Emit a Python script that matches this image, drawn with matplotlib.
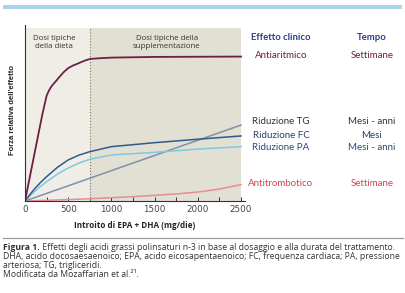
import matplotlib.pyplot as plt
from matplotlib.patches import Rectangle
from matplotlib.lines import Line2D

# Values (x in mg/die, y in relative units 0-100)
x_anti = [0, 100, 200, 250, 275, 300, 325, 350, 400, 450, 500, 550, 600, 650, 700,
          750, 850, 1000, 1500, 2000, 2500]
y_anti = [0, 25, 50, 61, 63.8, 66, 67.6, 69, 72, 74.8, 77, 78.4, 79.4, 80.5, 81.5,
          82.3, 82.7, 83.1, 83.5, 83.6, 83.7]

x_tg = [0, 2500]
y_tg = [0, 44]

x_fc = [0, 50, 100, 175, 250, 375, 500, 625, 750, 1000, 1500, 2000, 2500]
y_fc = [0, 3.3, 6.4, 10.5, 14.1, 19.5, 23.8, 26.6, 28.6, 31.5, 33.8, 35.8, 37.7]

x_pa = [0, 50, 100, 175, 250, 375, 500, 625, 750, 1000, 1500, 2000, 2500]
y_pa = [0, 2.6, 5.0, 8.3, 11.2, 15.6, 19.1, 22.0, 24.2, 26.7, 28.2, 30.1, 31.5]

x_at = [0, 250, 500, 750, 1000, 1250, 1500, 1750, 2000, 2250, 2500]
y_at = [0, 0.4, 0.8, 1.3, 1.9, 2.5, 3.3, 4.1, 5.2, 6.9, 9.5]

xticks = [0, 500, 1000, 1500, 2000, 2500]

legend_rows = [
    ("Antiaritmico", "Settimane", "#6b1e3c", 56),
    ("Riduzione TG", "Mesi - anni", "#333333", 122),
    ("Riduzione FC", "Mesi", "#22406e", 135),
    ("Riduzione PA", "Mesi - anni", "#2b4a7c", 148),
    ("Antitrombotico", "Settimane", "#d0454e", 183),
]

W, H = 405, 293
fig = plt.figure(figsize=(W / 100, H / 100), dpi=100)
fig.patch.set_facecolor("white")

ax = fig.add_axes([25 / W, 1 - 201 / H, 220 / W, 176 / H])
ax.set_xlim(0, 2546)
ax.set_ylim(0, 102)

# shaded background
ax.axvspan(0, 750, ymin=0, ymax=100 / 102, color="#efede6", lw=0)
ax.axvspan(750, 2500, ymin=0, ymax=100 / 102, color="#e2dfd3", lw=0)
ax.plot([750, 750], [0, 100], color="#777777", lw=0.8, ls=":")

ax.plot(x_at, y_at, color="#e88c98", lw=1.1)
ax.plot(x_tg, y_tg, color="#8190aa", lw=1.1)
ax.plot(x_pa, y_pa, color="#7fc8e2", lw=1.1)
ax.plot(x_fc, y_fc, color="#2f5b8c", lw=1.1)
ax.plot(x_anti, y_anti, color="#6e1f45", lw=1.3)

ax.text(340, 96, "Dosi tipiche\ndella dieta", ha="center", va="top",
        fontsize=5.7, color="#333333", family="Open Sans", linespacing=1.1)
ax.text(1640, 96, "Dosi tipiche della\nsupplementazione", ha="center", va="top",
        fontsize=5.7, color="#333333", family="Open Sans", linespacing=1.1)

for s in ["top", "right"]:
    ax.spines[s].set_visible(False)
ax.spines["left"].set_color("#333333")
ax.spines["bottom"].set_color("#333333")
ax.spines["left"].set_linewidth(0.8)
ax.spines["bottom"].set_linewidth(0.8)
ax.set_yticks([])
ax.set_xticks(xticks)
ax.set_xticks([250, 750, 1250, 1750, 2250], minor=True)
ax.tick_params(axis="x", which="both", direction="in", length=3, width=0.7,
               color="#333333", labelsize=6.3, labelcolor="#444444", pad=3)
ax.set_xlabel("Introito di EPA + DHA (mg/die)", fontsize=5.9, fontweight="bold",
              family="Open Sans", color="#222222", labelpad=5)
fig.text(13 / W, 1 - 110 / H, "Forza relativa dell'effetto", rotation=90,
         ha="center", va="center", fontsize=5.5, fontweight="bold",
         family="Liberation Sans", color="#222222")

# legend-like text on the right
fig.text(281 / W, 1 - 38 / H, "Effetto clinico", ha="center", va="center",
         fontsize=6.8, fontweight="bold", color="#2b3f8c", family="Lato")
fig.text(372 / W, 1 - 38 / H, "Tempo", ha="center", va="center",
         fontsize=6.8, fontweight="bold", color="#2b3f8c", family="Lato")
for eff, tempo, col, yp in legend_rows:
    fig.text(281 / W, 1 - yp / H, eff, ha="center", va="center",
             fontsize=7, color=col, family="Lato")
    fig.text(372 / W, 1 - yp / H, tempo, ha="center", va="center",
             fontsize=7, color=col, family="Lato")

# top blue band and separator rule
fig.patches.append(Rectangle((3 / W, 1 - 9 / H), 399 / W, 4 / H,
                             transform=fig.transFigure, color="#a9d3ea", lw=0))
fig.lines.append(Line2D([3 / W, 403 / W], [1 - 238 / H, 1 - 238 / H],
                        transform=fig.transFigure, color="#999999", lw=0.9))

# caption
cs = 6.2
cap = dict(fontsize=cs, color="#333333", family="Open Sans", va="center")
t1 = fig.text(3 / W, 1 - 247.5 / H, "Figura 1.", fontweight="bold", **cap)
ax.annotate(" Effetti degli acidi grassi polinsaturi n-3 in base al dosaggio e alla durata del trattamento.",
            xy=(1, 0.5), xycoords=t1, ha="left", va="center", fontsize=cs,
            color="#333333", family="Open Sans")
fig.text(3 / W, 1 - 256.5 / H,
         "DHA, acido docosaesaenoico; EPA, acido eicosapentaenoico; FC, frequenza cardiaca; PA, pressione",
         **cap)
fig.text(3 / W, 1 - 265.5 / H, "arteriosa; TG, trigliceridi.", **cap)
fig.text(3 / W, 1 - 274.5 / H, "Modificata da Mozaffarian et al.²¹.", **cap)

fig.savefig("out.png", dpi=100)
